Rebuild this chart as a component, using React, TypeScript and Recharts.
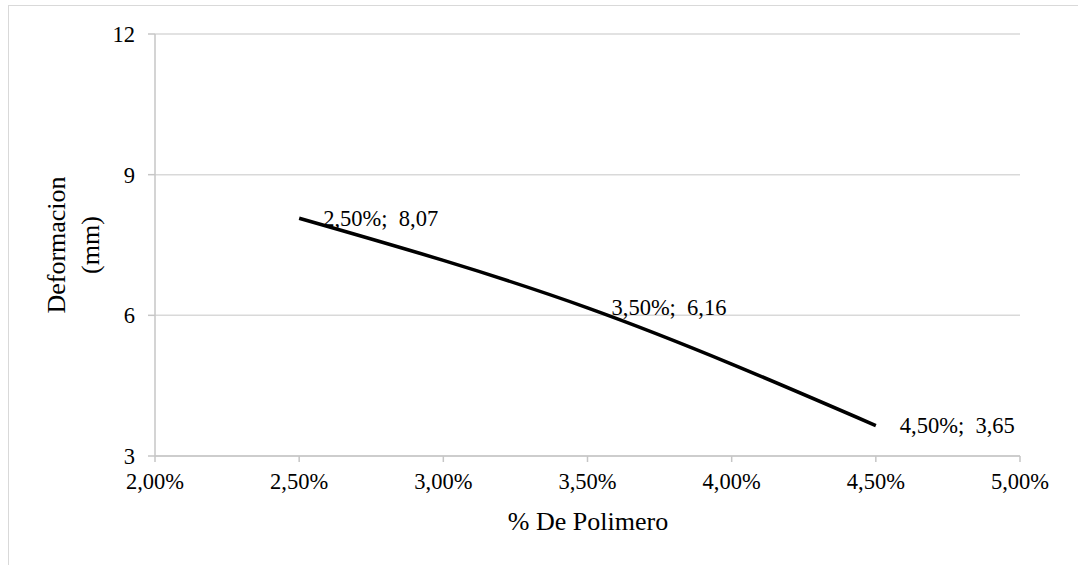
import React from 'react';
import { LineChart, Line, XAxis, YAxis, CartesianGrid, LabelList } from 'recharts';

// % of polymer (x) vs measured deformation in mm (y)
const polymerPct = [2.5, 3.5, 4.5];
const deformationMm = [8.07, 6.16, 3.65];

const xTicks = [2, 2.5, 3, 3.5, 4, 4.5, 5];
const yTicks = [3, 6, 9, 12];

const data = polymerPct.map((p, i) => ({ pct: p, mm: deformationMm[i] }));

const FONT = '"Liberation Serif", "Times New Roman", serif';
const AXIS_GRAY = '#c6c6c6';
const GRID_GRAY = '#d9d9d9';

const fmtPct = (v: number) => v.toFixed(2).replace('.', ',') + '%';
const fmtNum = (v: number) => v.toFixed(2).replace('.', ',');

const PointLabel = (props: any) => {
    const { x, y, index } = props;
    const text = `${fmtPct(polymerPct[index])};\u00A0 ${fmtNum(deformationMm[index])}`;
    return (
        <text x={x + 24} y={y} dominantBaseline="central" fontFamily={FONT} fontSize={22.5} fill="#000">
            {text}
        </text>
    );
};

const App: React.FC = () => {
    return (
        <div style={{ position: 'absolute', left: 0, top: 0, width: 1078, height: 565, overflow: 'hidden', background: '#fff', fontFamily: FONT }}>
            {/* chart frame */}
            <div style={{ position: 'absolute', left: 8, top: 5, width: 1070, height: 560, borderTop: `1px solid ${GRID_GRAY}`, borderLeft: `1px solid ${GRID_GRAY}` }} />

            <div style={{ position: 'absolute', left: 0, top: 0 }}>
                <LineChart width={1078} height={565} data={data} margin={{ top: 34, right: 58, bottom: 69, left: 95 }}>
                    <CartesianGrid vertical={false} stroke={GRID_GRAY} strokeWidth={1.5} />
                    <XAxis
                        dataKey="pct"
                        type="number"
                        domain={[2, 5]}
                        ticks={xTicks}
                        tickFormatter={fmtPct}
                        stroke={AXIS_GRAY}
                        strokeWidth={1.5}
                        tickSize={6}
                        tickMargin={11}
                        height={40}
                        tick={{ fill: '#000', fontSize: 22.5, fontFamily: FONT }}
                    />
                    <YAxis
                        type="number"
                        domain={[3, 12]}
                        ticks={yTicks}
                        stroke={AXIS_GRAY}
                        strokeWidth={1.5}
                        tickSize={7}
                        tickMargin={13}
                        width={60}
                        tick={{ fill: '#000', fontSize: 22.5, fontFamily: FONT }}
                    />
                    <Line
                        dataKey="mm"
                        type="natural"
                        stroke="#000"
                        strokeWidth={3.5}
                        dot={false}
                        isAnimationActive={false}
                    >
                        <LabelList dataKey="mm" content={<PointLabel />} />
                    </Line>
                </LineChart>
            </div>

            {/* axis titles */}
            <div style={{ position: 'absolute', left: 588, top: 522, transform: 'translate(-50%, -50%)', fontSize: 26, whiteSpace: 'nowrap', color: '#000' }}>
                % De Polimero
            </div>
            <div style={{ position: 'absolute', left: 74, top: 245, transform: 'translate(-50%, -50%) rotate(-90deg)', fontSize: 26, whiteSpace: 'nowrap', textAlign: 'center', lineHeight: '34px', color: '#000' }}>
                Deformacion<br />(mm)
            </div>
        </div>
    );
};

export default App;
